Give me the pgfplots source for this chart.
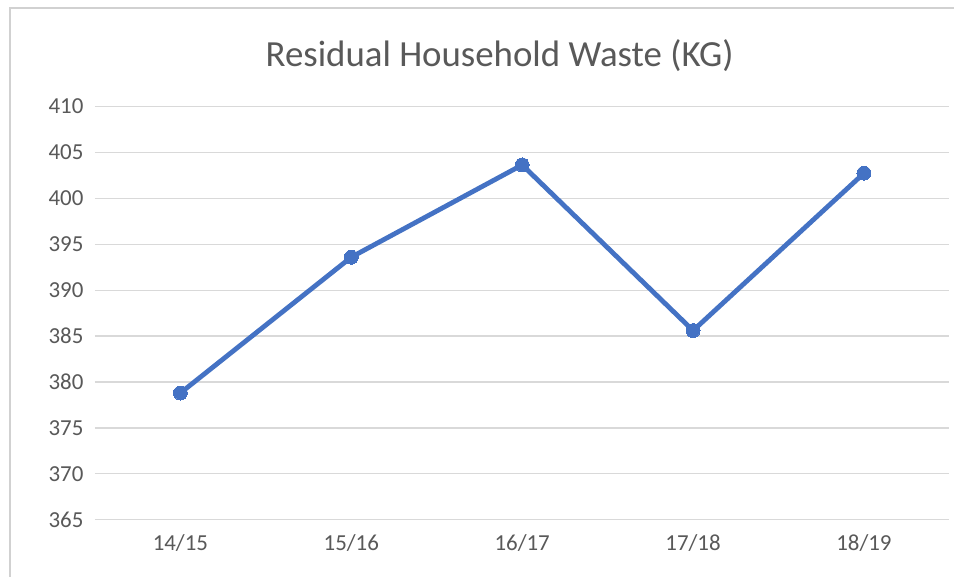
\documentclass[border=0pt]{standalone}
\usepackage{pgfplots}
\pgfplotsset{compat=1.18}
\usepackage{fontspec}
\setmainfont{Carlito}
\definecolor{exblue}{HTML}{4472C4}
\definecolor{txt}{HTML}{595959}
\definecolor{gridc}{HTML}{D9D9D9}
\begin{document}
\begin{tikzpicture}
\path[fill=white] (0bp,0bp) rectangle (955bp,577bp);
\draw[black!18, line width=1.2bp] (10bp,0bp) -- (10bp,569bp) -- (955bp,569bp);
\begin{axis}[
  at={(95bp,57bp)}, anchor=south west, scale only axis,
  width=855bp, height=413.3bp,
  xmin=-0.5, xmax=4.5, ymin=365, ymax=410,
  ytick={365,370,...,410},
  xtick={0,1,2,3,4},
  xticklabels={14/15,15/16,16/17,17/18,18/19},
  axis line style={draw=none},
  ymajorgrids,
  major grid style={draw=gridc, line width=1.3bp},
  major tick length=0pt,
  tick style={draw=none},
  /pgf/number format/assume math mode=true,
  ticklabel style={font=\fontsize{23}{27}\selectfont, text=txt},
  yticklabel style={anchor=east, xshift=-8bp},
  xticklabel style={anchor=north, yshift=-11bp},
  clip=false,
]
\addplot[exblue, line width=4.8bp, mark=*, mark size=7bp, mark options={fill=exblue, draw=exblue, line width=0pt}]
  coordinates {(0,378.8) (1,393.6) (2,403.65) (3,385.6) (4,402.75)};
\end{axis}
\node[text=txt, font=\fontsize{37}{42}\selectfont] at (500bp,521bp) {Residual Household Waste (KG)};
\end{tikzpicture}
\end{document}
